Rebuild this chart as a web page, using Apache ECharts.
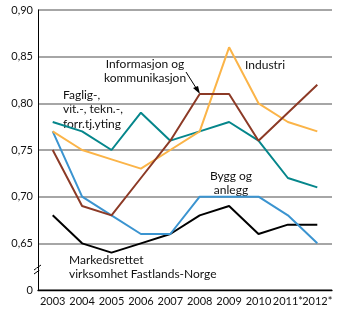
<!DOCTYPE html>
<html><head><meta charset="utf-8">
<script src="https://cdn.jsdelivr.net/npm/echarts@6/dist/echarts.min.js"></script>
<style>html,body{margin:0;padding:0;background:#fff}#c{width:350px;height:324px}</style>
</head><body><div id="c"></div>
<script>
var years = ['2003','2004','2005','2006','2007','2008','2009','2010','2011*','2012*'];
var faglig = [0.78,0.77,0.75,0.79,0.76,0.77,0.78,0.76,0.72,0.71];
var industri = [0.77,0.75,0.74,0.73,0.75,0.77,0.86,0.80,0.78,0.77];
var informasjon = [0.75,0.69,0.68,0.72,0.76,0.81,0.81,0.76,0.79,0.82];
var bygg = [0.77,0.70,0.68,0.66,0.66,0.70,0.70,0.70,0.68,0.65];
var markeds = [0.68,0.65,0.64,0.65,0.66,0.68,0.69,0.66,0.67,0.67];

var FONT = 'Lato, "Open Sans", sans-serif';
var chart = echarts.init(document.getElementById('c'));
function line(name, data, color){
  return {name:name,type:'line',data:data,symbol:'none',lineStyle:{color:color,width:2},itemStyle:{color:color},animation:false};
}
function txt(x,y,s,align){
  return s.split('\n').map(function(t,i){
    return {type:'text',x:x,y:y+i*14.5,style:{text:t,fontSize:12,fontFamily:FONT,fill:'#111',align:align||'left',verticalAlign:'middle'}};
  });
}
var graphics = [
  {type:'line',shape:{x1:34,y1:270,x2:41,y2:265},style:{stroke:'#000',lineWidth:1}},
  {type:'line',shape:{x1:34,y1:274,x2:41,y2:269},style:{stroke:'#000',lineWidth:1}},
  {type:'rect',shape:{x:36,y:268.5,width:5,height:2},style:{fill:'#fff'}},
  {type:'line',shape:{x1:186,y1:72,x2:198,y2:91},style:{stroke:'#000',lineWidth:1}},
  {type:'polygon',shape:{points:[[200,94],[193,88],[198,86]]},style:{fill:'#000'}}
].concat(
  txt(145,64,'Informasjon og\nkommunikasjon','center'),
  txt(245,65,'Industri'),
  txt(63,95,'Faglig-,\nvit.-, tekn.-,\nforr.tj.yting'),
  txt(231,176,'Bygg og\nanlegg','center'),
  txt(69,260,'Markedsrettet\nvirksomhet Fastlands-Norge')
);
chart.setOption({
  animation:false,
  grid:{left:38,right:18,top:10,bottom:34},
  xAxis:{type:'category',data:years,boundaryGap:true,
    axisLine:{lineStyle:{color:'#000',width:1.3}},
    axisTick:{alignWithLabel:true,inside:true,length:7,lineStyle:{color:'#000'}},
    axisLabel:{color:'#111',fontSize:11,fontFamily:FONT,margin:6,interval:0}},
  yAxis:{type:'value',min:0.6,max:0.9,interval:0.05,
    axisLine:{show:true,lineStyle:{color:'#000',width:1}},
    axisTick:{show:false},
    splitLine:{lineStyle:{color:'#888',width:1.5}},
    axisLabel:{color:'#111',fontSize:11,fontFamily:FONT,margin:5,
      formatter:function(v){return v<0.62?'0':v.toFixed(2).replace('.',',');}}},
  series:[
    line('Markedsrettet',markeds,'#000'),
    line('Bygg og anlegg',bygg,'#3b94d0'),
    line('Faglig',faglig,'#05868b'),
    line('Industri',industri,'#fbb448'),
    line('Informasjon',informasjon,'#8c3a26')
  ],
  graphic:graphics
});
</script></body></html>
